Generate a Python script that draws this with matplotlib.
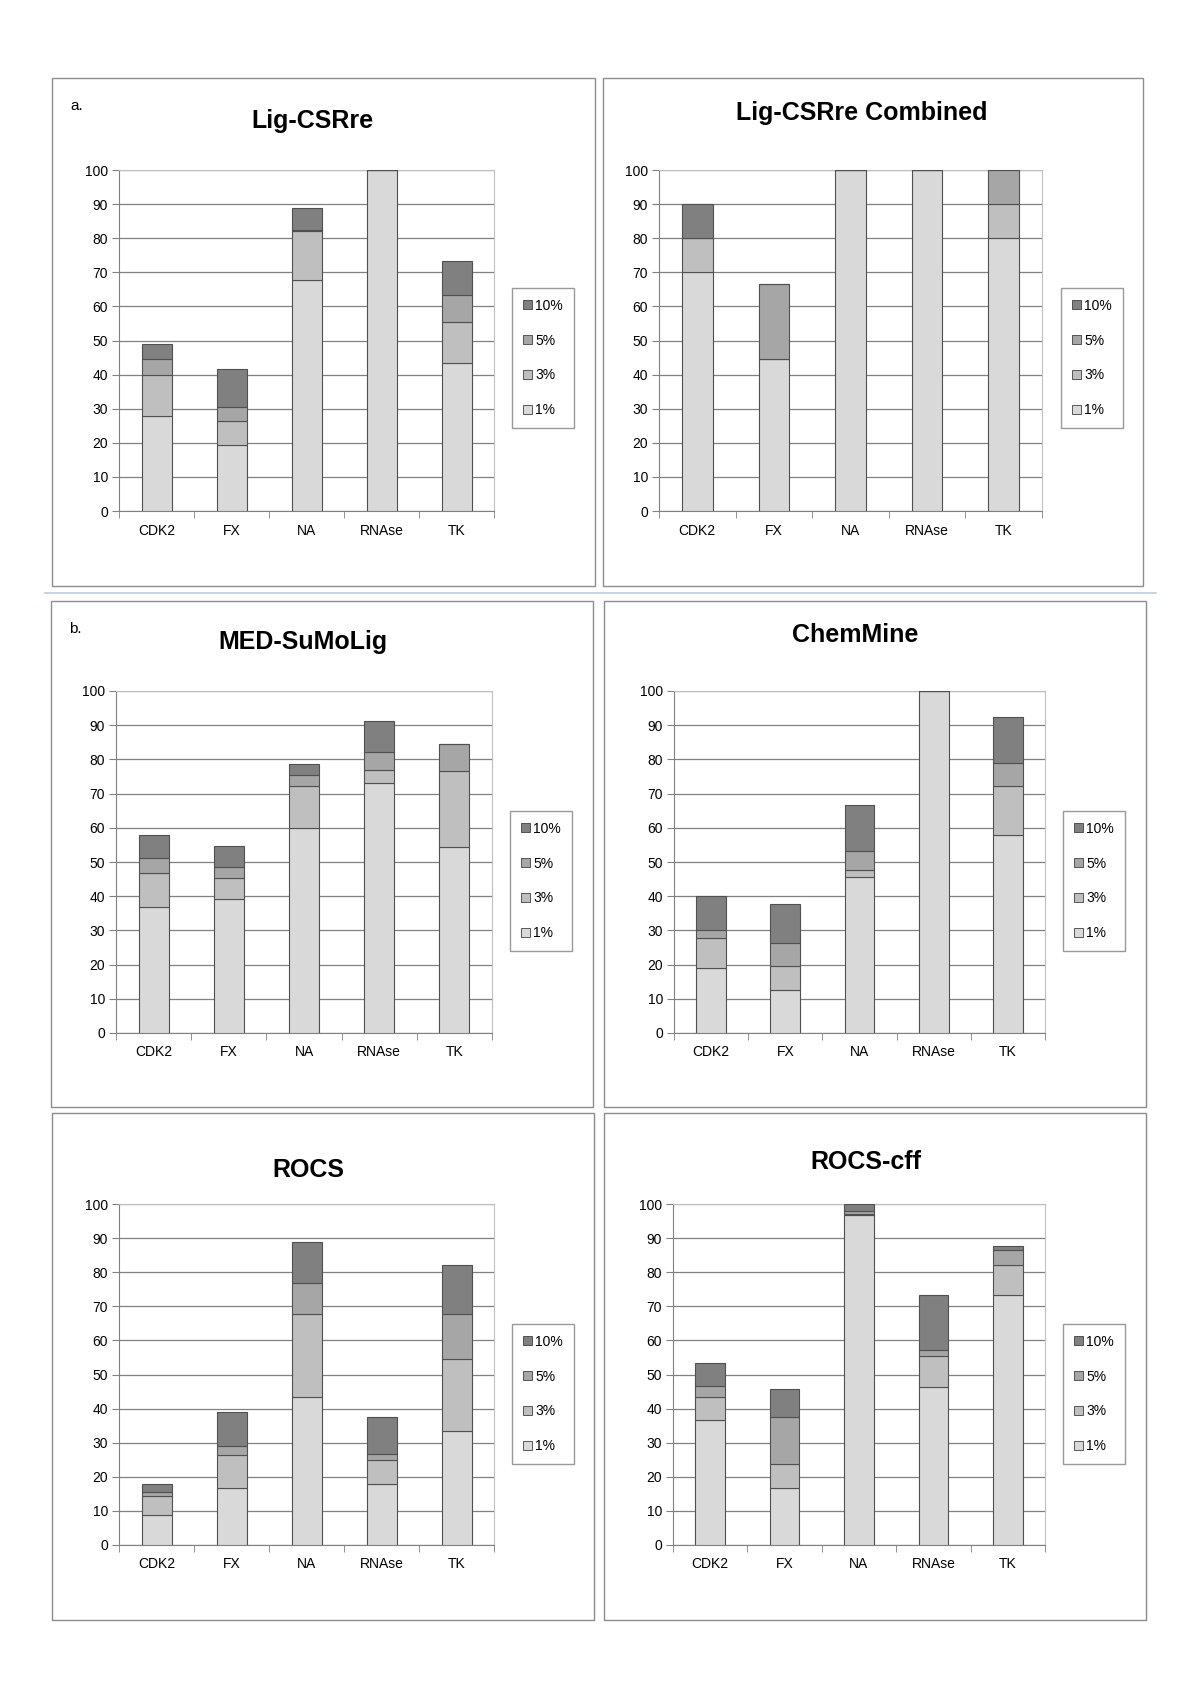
import numpy as np
import matplotlib
matplotlib.use("Agg")
import matplotlib.pyplot as plt
from matplotlib.patches import Rectangle
from matplotlib.lines import Line2D

plt.rcParams["font.family"] = ["Liberation Sans", "DejaVu Sans"]

targets = ["CDK2", "FX", "NA", "RNAse", "TK"]
levels = ["1%", "3%", "5%", "10%"]
colors = ["#d9d9d9", "#bfbfbf", "#a6a6a6", "#808080"]

# cumulative % of actives found at 1%, 3%, 5%, 10% (one row per target)
lig_csrre = [[28.0, 40.0, 44.5, 49.0],
             [19.4, 26.4, 30.5, 41.7],
             [67.8, 82.0, 82.5, 88.8],
             [100, 100, 100, 100],
             [43.5, 55.5, 63.3, 73.4]]
lig_csrre_comb = [[70, 80, 80, 90],
                  [44.5, 44.5, 66.7, 66.7],
                  [100, 100, 100, 100],
                  [100, 100, 100, 100],
                  [80, 90, 100, 100]]
med_sumolig = [[36.8, 46.8, 51.1, 58.0],
               [39.1, 45.3, 48.5, 54.7],
               [60.0, 72.3, 75.5, 78.8],
               [73.2, 77.0, 82.2, 91.1],
               [54.5, 76.7, 84.4, 84.4]]
chemmine = [[19.0, 27.7, 30.0, 40.0],
            [12.5, 19.5, 26.3, 37.6],
            [45.7, 47.8, 53.2, 66.7],
            [100, 100, 100, 100],
            [58.0, 72.3, 79.0, 92.3]]
rocs = [[8.9, 14.4, 15.6, 17.8],
        [16.7, 26.5, 29.1, 38.9],
        [43.5, 67.8, 76.7, 88.9],
        [17.9, 25.0, 26.8, 37.6],
        [33.3, 54.5, 67.8, 82.2]]
rocs_cff = [[36.7, 43.4, 46.7, 53.3],
            [16.7, 23.7, 37.6, 45.8],
            [96.8, 97.2, 97.9, 100],
            [46.4, 55.5, 57.2, 73.2],
            [73.3, 82.2, 86.6, 87.8]]

W, H = 1200, 1697
fig = plt.figure(figsize=(W / 100, H / 100), dpi=100)

# (title, data, tag, box px, axes px, legend center px, title px)
panels = [
    ("Lig-CSRre", lig_csrre, "a.", (52, 78, 595, 586), (119, 170, 494, 511), (543, 358), (312, 121)),
    ("Lig-CSRre Combined", lig_csrre_comb, None, (603, 78, 1143, 586), (659, 170, 1042, 511), (1092, 358), (862, 113)),
    ("MED-SuMoLig", med_sumolig, "b.", (51, 601, 593, 1107), (116, 691, 492, 1033), (541, 881), (303, 642)),
    ("ChemMine", chemmine, None, (604, 601, 1146, 1107), (674, 691, 1045, 1033), (1094, 881), (855, 635)),
    ("ROCS", rocs, None, (52, 1113, 594, 1620), (119, 1204, 494, 1545), (543, 1394), (308, 1170)),
    ("ROCS-cff", rocs_cff, None, (604, 1113, 1146, 1620), (673, 1204, 1045, 1545), (1094, 1394), (866, 1162)),
]

def fx(x):
    return x / W

def fy(y):
    return 1 - y / H

for title, data, tag, box, axpx, legc, tpos in panels:
    # panel frame
    fig.patches.append(Rectangle((fx(box[0]), fy(box[3])), fx(box[2] - box[0]), (box[3] - box[1]) / H,
                                 transform=fig.transFigure, fill=False, edgecolor="#8c8c8c", lw=1.0))
    ax = fig.add_axes([fx(axpx[0]), fy(axpx[3]), fx(axpx[2] - axpx[0]), (axpx[3] - axpx[1]) / H])
    cum = np.array(data, dtype=float)
    seg = np.diff(np.hstack([np.zeros((len(targets), 1)), cum]), axis=1)
    x = np.arange(len(targets))
    bottom = np.zeros(len(targets))
    for k, lev in enumerate(levels):
        ax.bar(x, seg[:, k], 0.4, bottom=bottom, color=colors[k], edgecolor="#505050", lw=0.8, zorder=3)
        bottom += seg[:, k]
    ax.set_xlim(-0.5, len(targets) - 0.5)
    ax.set_ylim(0, 100)
    ax.set_yticks(range(0, 101, 10))
    ax.set_xticks(x)
    ax.set_xticklabels(targets)
    ax.set_xticks(np.arange(-0.5, len(targets), 1), minor=True)
    ax.tick_params(axis="x", which="major", length=0, pad=9, labelsize=10)
    ax.tick_params(axis="x", which="minor", length=5, color="#808080", direction="out")
    ax.tick_params(axis="y", length=5, color="#808080", labelsize=10, pad=3)
    ax.yaxis.grid(True, color="#808080", lw=0.9)
    ax.set_axisbelow(True)
    for s in ["top", "right"]:
        ax.spines[s].set_color("#c0c0c0")
    for s in ["left", "bottom"]:
        ax.spines[s].set_color("#808080")
    handles = [Rectangle((0, 0), 1, 1, facecolor=colors[k], edgecolor="#404040", lw=0.6) for k in range(4)][::-1]
    ax.legend(handles, levels[::-1], loc="center", bbox_to_anchor=(fx(legc[0]), fy(legc[1])),
              bbox_transform=fig.transFigure, frameon=True, fancybox=False, edgecolor="#808080",
              fontsize=10, handlelength=0.6, handleheight=0.6, handletextpad=0.25,
              labelspacing=1.5, borderpad=0.8, borderaxespad=0)
    fig.text(fx(tpos[0]), fy(tpos[1]), title, ha="center", va="center", fontsize=18, fontweight="bold")
    if tag:
        fig.text(fx(box[0] + 18), fy(box[1] + 28), tag, ha="left", va="center", fontsize=11)

# light separator between part a and part b
fig.add_artist(Line2D([fx(45), fx(1156)], [fy(593), fy(593)], color="#b8cce4", lw=1.2))

fig.savefig("out.png", dpi=100, facecolor="white")
